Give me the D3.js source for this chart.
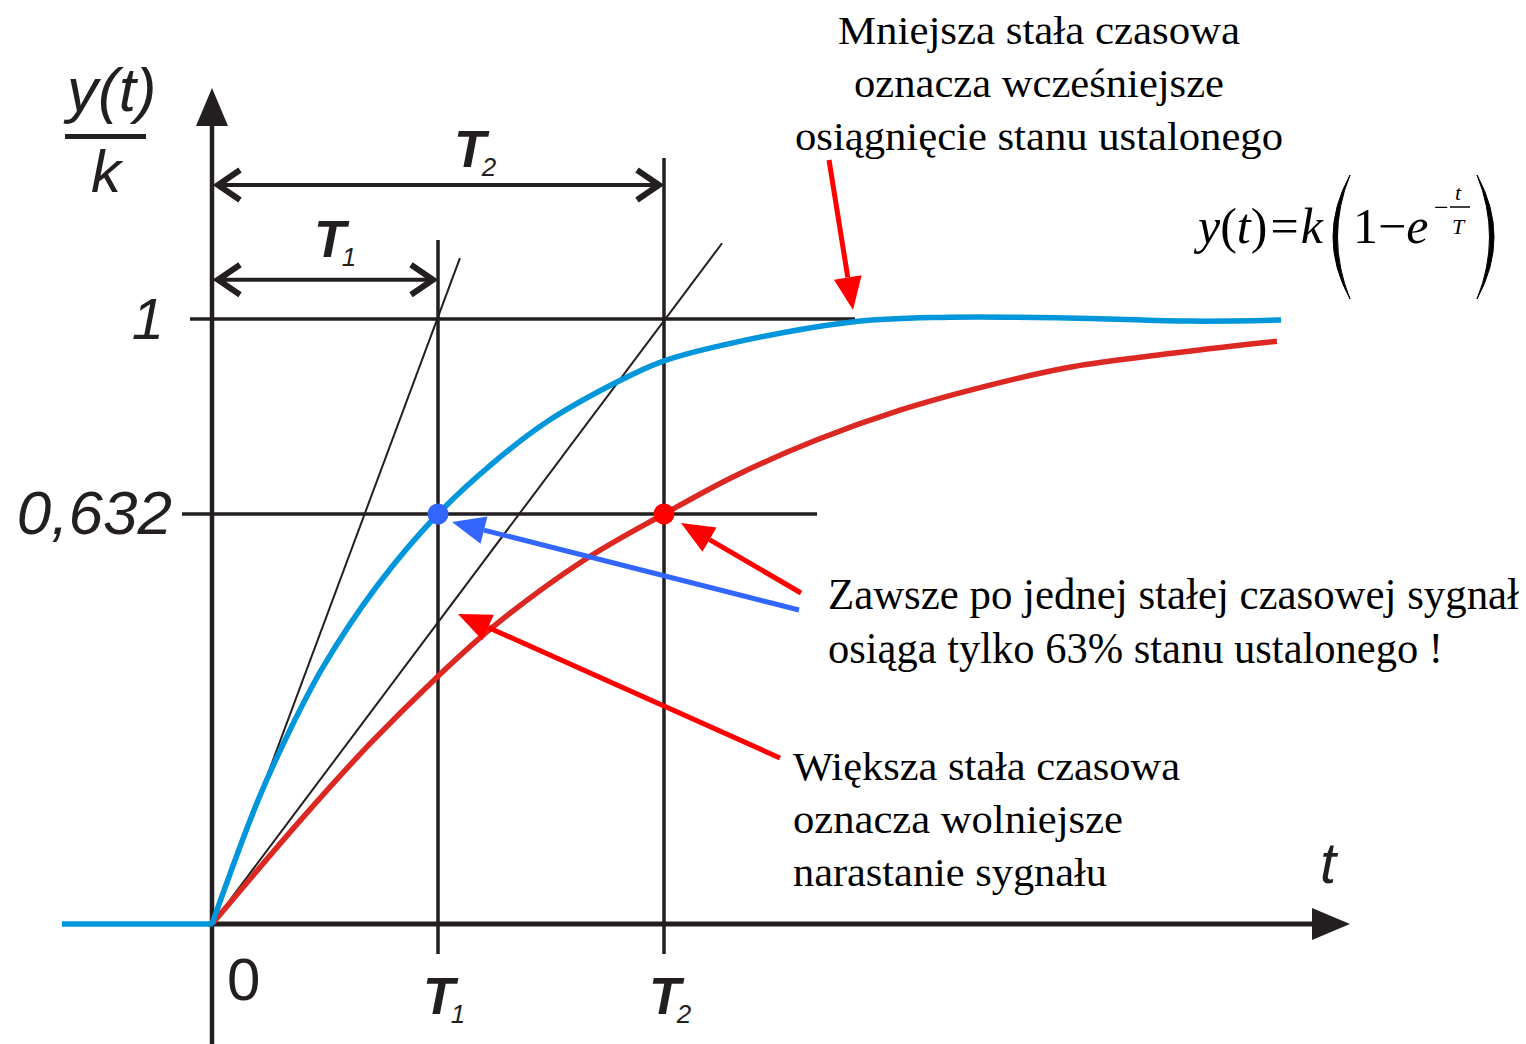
<!DOCTYPE html>
<html>
<head>
<meta charset="utf-8">
<script src="https://cdn.jsdelivr.net/npm/d3@7"></script>
<style>
  body { margin: 0; background: #fff; }
  svg { display: block; }
</style>
</head>
<body>
<svg width="1526" height="1044"></svg>
<script>
// time in units of T1
const timeConstants = [1, 2];
const timeSubs = ['1', '2'];
const levels = [0.632, 1];
const levelLabels = ['0,632', '1'];

// step response (t, y/k)
const blueT = [0, 0.204, 0.345, 0.491, 0.730, 1.0, 1.243, 1.482, 1.792, 2.0, 2.305, 2.823, 3.230, 3.783, 4.336, 4.73];
const blueV = [0, 0.191, 0.299, 0.396, 0.521, 0.632, 0.728, 0.806, 0.881, 0.921, 0.955, 0.994, 1.003, 1.002, 0.996, 0.998];
const redT = [0, 0.389, 0.699, 0.991, 1.243, 1.642, 2.0, 2.305, 2.677, 3.044, 3.412, 3.783, 4.150, 4.518, 4.712];
const redV = [0, 0.159, 0.278, 0.379, 0.458, 0.560, 0.632, 0.702, 0.772, 0.828, 0.872, 0.908, 0.930, 0.949, 0.958];
const blueStartT = -0.664;

// tangent lines at t = 0, end points
const tangentT = [1.097, 2.257];
const tangentV = [1.115, 1.143];

const svg = d3.select('svg');
const ink = '#231f20';
const blue = '#0096dc';
const red = '#dc2822';
const sans = "'Liberation Sans', Arial, sans-serif";
const serif = "'Liberation Serif', 'Times New Roman', serif";

const x = d3.scaleLinear().domain([0, 2]).range([212, 664]);
// the picture is schematic: 0,632 is not drawn to scale
const y = d3.scaleLinear().domain([0, 0.632, 1]).range([924, 514, 319]);

const x0 = x(0), y0 = y(0);

// level lines
svg.append('line').attr('x1', 190).attr('x2', 855)
  .attr('y1', y(1)).attr('y2', y(1))
  .attr('stroke', ink).attr('stroke-width', 3.5);
svg.append('line').attr('x1', 182).attr('x2', 817)
  .attr('y1', y(0.632)).attr('y2', y(0.632))
  .attr('stroke', ink).attr('stroke-width', 3.5);

// vertical lines at T1, T2
const vTop = [240, 158];
svg.selectAll('.tline').data(timeConstants).enter().append('line')
  .attr('class', 'tline')
  .attr('x1', d => x(d)).attr('x2', d => x(d))
  .attr('y1', (d, i) => vTop[i]).attr('y2', 954)
  .attr('stroke', ink).attr('stroke-width', 3.5);

// tangents
svg.selectAll('.tan').data(tangentT).enter().append('line')
  .attr('class', 'tan')
  .attr('x1', x0).attr('y1', y0)
  .attr('x2', d => x(d)).attr('y2', (d, i) => y(tangentV[i]))
  .attr('stroke', ink).attr('stroke-width', 2);

// axes
svg.append('line').attr('x1', x0).attr('x2', x0).attr('y1', 1044).attr('y2', 120)
  .attr('stroke', ink).attr('stroke-width', 4.5);
svg.append('path').attr('d', `M${x0},88 L${x0 - 16},126 L${x0 + 16},126 Z`).attr('fill', ink);
svg.append('line').attr('x1', x0 - 4).attr('x2', 1316).attr('y1', y0).attr('y2', y0)
  .attr('stroke', ink).attr('stroke-width', 5);
svg.append('path').attr('d', `M1350,${y0} L1312,${y0 - 16} L1312,${y0 + 16} Z`).attr('fill', ink);

// dimension arrows
const dimV = [1.074, 1.253];
timeConstants.forEach((T, i) => {
  const yy = y(dimV[i]);
  const xa = x0 + 4, xb = x(T) - 3;
  svg.append('line').attr('x1', xa).attr('x2', xb).attr('y1', yy).attr('y2', yy)
    .attr('stroke', ink).attr('stroke-width', 4);
  svg.append('path')
    .attr('d', `M${xa + 24},${yy - 15} L${xa + 2},${yy} L${xa + 24},${yy + 15}`)
    .attr('fill', 'none').attr('stroke', ink).attr('stroke-width', 6);
  svg.append('path')
    .attr('d', `M${xb - 24},${yy - 15} L${xb - 2},${yy} L${xb - 24},${yy + 15}`)
    .attr('fill', 'none').attr('stroke', ink).attr('stroke-width', 6);
});

// curves
const line = d3.line().x(d => x(d[0])).y(d => y(d[1])).curve(d3.curveCatmullRom.alpha(0.5));
svg.append('line').attr('x1', x(blueStartT)).attr('x2', x0 + 1).attr('y1', y0).attr('y2', y0)
  .attr('stroke', blue).attr('stroke-width', 5.5);
svg.append('path').datum(redT.map((t, i) => [t, redV[i]]))
  .attr('d', line).attr('fill', 'none').attr('stroke', red).attr('stroke-width', 5.5);
svg.append('path').datum(blueT.map((t, i) => [t, blueV[i]]))
  .attr('d', line).attr('fill', 'none').attr('stroke', blue).attr('stroke-width', 5.5);

// points at 0,632
svg.append('circle').attr('cx', x(timeConstants[0])).attr('cy', y(0.632)).attr('r', 10.5).attr('fill', '#3366ff');
svg.append('circle').attr('cx', x(timeConstants[1])).attr('cy', y(0.632)).attr('r', 10.5).attr('fill', '#ff0000');

// annotation arrows
function arrow(x1, y1, x2, y2, color) {
  const a = Math.atan2(y2 - y1, x2 - x1);
  const len = 33, hw = 14;
  const bx = x2 - len * Math.cos(a), by = y2 - len * Math.sin(a);
  svg.append('line').attr('x1', x1).attr('y1', y1).attr('x2', bx).attr('y2', by)
    .attr('stroke', color).attr('stroke-width', 5);
  const px = -Math.sin(a) * hw, py = Math.cos(a) * hw;
  svg.append('path')
    .attr('d', `M${x2},${y2} L${bx + px},${by + py} L${bx - px},${by - py} Z`)
    .attr('fill', color);
}
arrow(829, 160, 853, 310, '#ff0000');
arrow(799, 610, x(1) + 14, y(0.632) + 8, '#3366ff');
arrow(801, 593, x(2) + 17, y(0.632) + 9, '#ff0000');
arrow(780, 758, 458, 614, '#ff0000');

// axis labels
svg.selectAll('.lvl').data(levels).enter().append('text')
  .attr('class', 'lvl')
  .attr('x', (d, i) => i === 0 ? 172 : 164)
  .attr('y', d => y(d) + 20)
  .attr('text-anchor', 'end')
  .attr('font-family', sans).attr('font-style', 'italic').attr('font-size', (d, i) => i === 0 ? 62 : 58)
  .attr('fill', ink)
  .text((d, i) => levelLabels[i]);

svg.append('text').attr('x', 227).attr('y', 1000)
  .attr('font-family', sans).attr('font-size', 60).attr('fill', ink).text('0');

function tLabel(xp, yp, sub) {
  const t = svg.append('text').attr('x', xp).attr('y', yp)
    .attr('font-family', sans).attr('font-style', 'italic').attr('fill', ink);
  t.append('tspan').attr('font-weight', 'bold').attr('font-size', 52).text('T');
  t.append('tspan').attr('font-size', 26).attr('dx', -4).attr('dy', 9).text(sub);
}
timeConstants.forEach((T, i) => {
  tLabel(x(T) - 15, 1014, timeSubs[i]);
});
tLabel(314, 257, timeSubs[0]);
tLabel(454, 167, timeSubs[1]);

// y(t)/k
svg.append('text').attr('x', 67).attr('y', 111)
  .attr('font-family', sans).attr('font-style', 'italic').attr('font-size', 62).attr('fill', ink)
  .text('y(t)');
svg.append('rect').attr('x', 65).attr('y', 134).attr('width', 81).attr('height', 5).attr('fill', ink);
svg.append('text').attr('x', 91).attr('y', 192)
  .attr('font-family', sans).attr('font-style', 'italic').attr('font-size', 60).attr('fill', ink)
  .text('k');
svg.append('text').attr('x', 1320).attr('y', 883)
  .attr('font-family', sans).attr('font-style', 'italic').attr('font-size', 58).attr('fill', ink)
  .text('t');

// formula
const f = svg.append('text').attr('x', 1198).attr('y', 243)
  .attr('font-family', serif).attr('font-size', 50).attr('fill', '#000');
f.append('tspan').attr('font-style', 'italic').text('y');
f.append('tspan').text('(');
f.append('tspan').attr('font-style', 'italic').text('t');
f.append('tspan').text(')');
f.append('tspan').attr('dx', 3).text('=');
f.append('tspan').attr('dx', 2).attr('font-style', 'italic').text('k');
const f2 = svg.append('text').attr('x', 1353).attr('y', 243)
  .attr('font-family', serif).attr('font-size', 50).attr('fill', '#000');
f2.append('tspan').text('1\u2212');
f2.append('tspan').attr('font-style', 'italic').text('e');
svg.append('text').attr('x', 1434).attr('y', 216)
  .attr('font-family', serif).attr('font-size', 26).text('\u2212');
svg.append('text').attr('x', 1455).attr('y', 200)
  .attr('font-family', serif).attr('font-style', 'italic').attr('font-size', 22).text('t');
svg.append('line').attr('x1', 1450).attr('x2', 1470).attr('y1', 207).attr('y2', 207)
  .attr('stroke', '#000').attr('stroke-width', 1.5);
svg.append('text').attr('x', 1452).attr('y', 234)
  .attr('font-family', serif).attr('font-style', 'italic').attr('font-size', 22).text('T');
svg.append('path').attr('d', 'M1350,175 Q1316,237 1350,299 Q1325,237 1350,175 Z')
  .attr('fill', '#000').attr('stroke', '#000').attr('stroke-width', 1);
svg.append('path').attr('d', 'M1477,175 Q1511,237 1477,299 Q1502,237 1477,175 Z')
  .attr('fill', '#000').attr('stroke', '#000').attr('stroke-width', 1);

// annotation text
function block(lines, xp, y0p, step, size, anchor) {
  lines.forEach((l, i) => {
    svg.append('text').attr('x', xp).attr('y', y0p + i * step)
      .attr('font-family', serif).attr('font-size', size)
      .attr('text-anchor', anchor).attr('fill', '#000')
      .attr('textLength', l[1]).attr('lengthAdjust', 'spacingAndGlyphs')
      .text(l[0]);
  });
}
block([['Mniejsza stała czasowa', 402], ['oznacza wcześniejsze', 370], ['osiągnięcie stanu ustalonego', 488]],
  1039, 44, 53, 40, 'middle');
block([['Zawsze po jednej stałej czasowej sygnał', 691], ['osiąga tylko 63% stanu ustalonego !', 615]],
  828, 609, 54, 44, 'start');
block([['Większa stała czasowa', 387], ['oznacza wolniejsze', 330], ['narastanie sygnału', 314]],
  793, 780, 53, 41, 'start');
</script>
</body>
</html>
